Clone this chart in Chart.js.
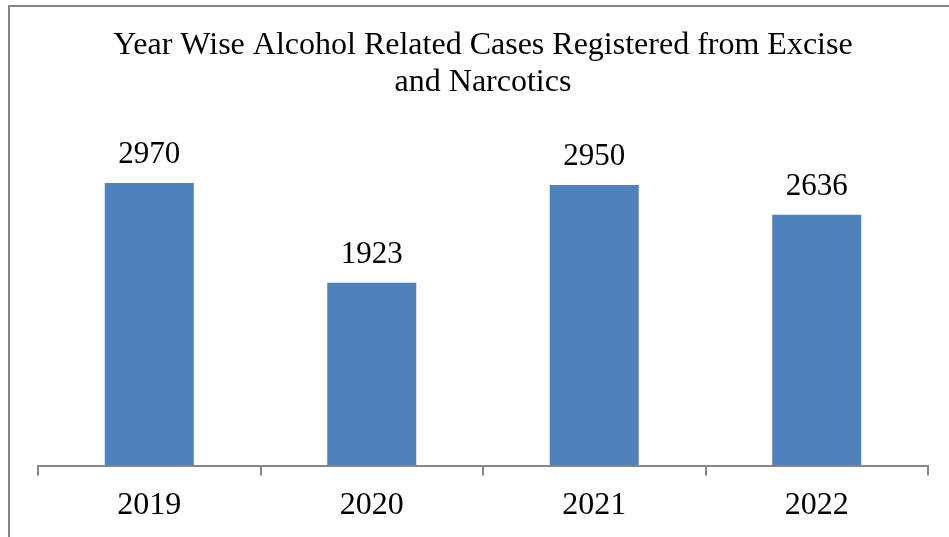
<!DOCTYPE html>
<html>
<head>
<meta charset="utf-8">
<script src="https://cdn.jsdelivr.net/npm/chart.js@4/dist/chart.umd.min.js"></script>
<style>
  html, body { margin: 0; padding: 0; background: #fff; }
  #wrap { position: relative; width: 949px; height: 537px; overflow: hidden; }
  #frame { position: absolute; left: 8px; top: 5px; right: -10px; bottom: -10px;
           border-left: 2px solid #878787; border-top: 2px solid #878787; pointer-events: none; }
  canvas { position: absolute; left: 0; top: 0; }
</style>
</head>
<body>
<div id="wrap">
  <canvas id="chart" width="949" height="537"></canvas>
  <div id="frame"></div>
</div>
<script>
// Alcohol related cases registered per year
const years = ['2019', '2020', '2021', '2022'];
const cases = [2970, 1923, 2950, 2636];
const titleLines = ['Year Wise Alcohol Related Cases Registered from Excise', 'and Narcotics'];

const serif = "'Liberation Serif', 'Times New Roman', serif";

// Writes each bar's value above it
const valueLabels = {
  id: 'valueLabels',
  afterDatasetsDraw(chart) {
    const ctx = chart.ctx;
    const meta = chart.getDatasetMeta(0);
    ctx.save();
    ctx.font = '31px ' + serif;
    ctx.fillStyle = '#000';
    ctx.textAlign = 'center';
    ctx.textBaseline = 'alphabetic';
    meta.data.forEach((bar, i) => {
      ctx.fillText(String(chart.data.datasets[0].data[i]), bar.x, bar.y - 20);
    });
    ctx.restore();
  }
};

new Chart(document.getElementById('chart'), {
  type: 'bar',
  data: {
    labels: years,
    datasets: [{
      data: cases,
      backgroundColor: '#4F81BD',
      borderWidth: 0,
      categoryPercentage: 1.0,
      barPercentage: 0.4
    }]
  },
  options: {
    responsive: false,
    animation: false,
    layout: { padding: { left: 38, right: 21, top: 27, bottom: 1 } },
    plugins: {
      legend: { display: false },
      tooltip: { enabled: false },
      title: {
        display: true,
        text: titleLines,
        color: '#000',
        font: { family: serif, size: 32, weight: 'normal', lineHeight: 1.15 },
        padding: { top: 0, bottom: 32 }
      }
    },
    scales: {
      x: {
        grid: {
          display: true,
          drawOnChartArea: false,
          drawTicks: true,
          tickLength: 10,
          color: '#878787',
          lineWidth: 2,
          offset: true
        },
        border: { display: true, color: '#878787', width: 2 },
        ticks: {
          color: '#000',
          padding: 11,
          font: { family: serif, size: 32 }
        }
      },
      y: {
        display: false,
        min: 0,
        max: 3500
      }
    }
  },
  plugins: [valueLabels]
});
</script>
</body>
</html>
